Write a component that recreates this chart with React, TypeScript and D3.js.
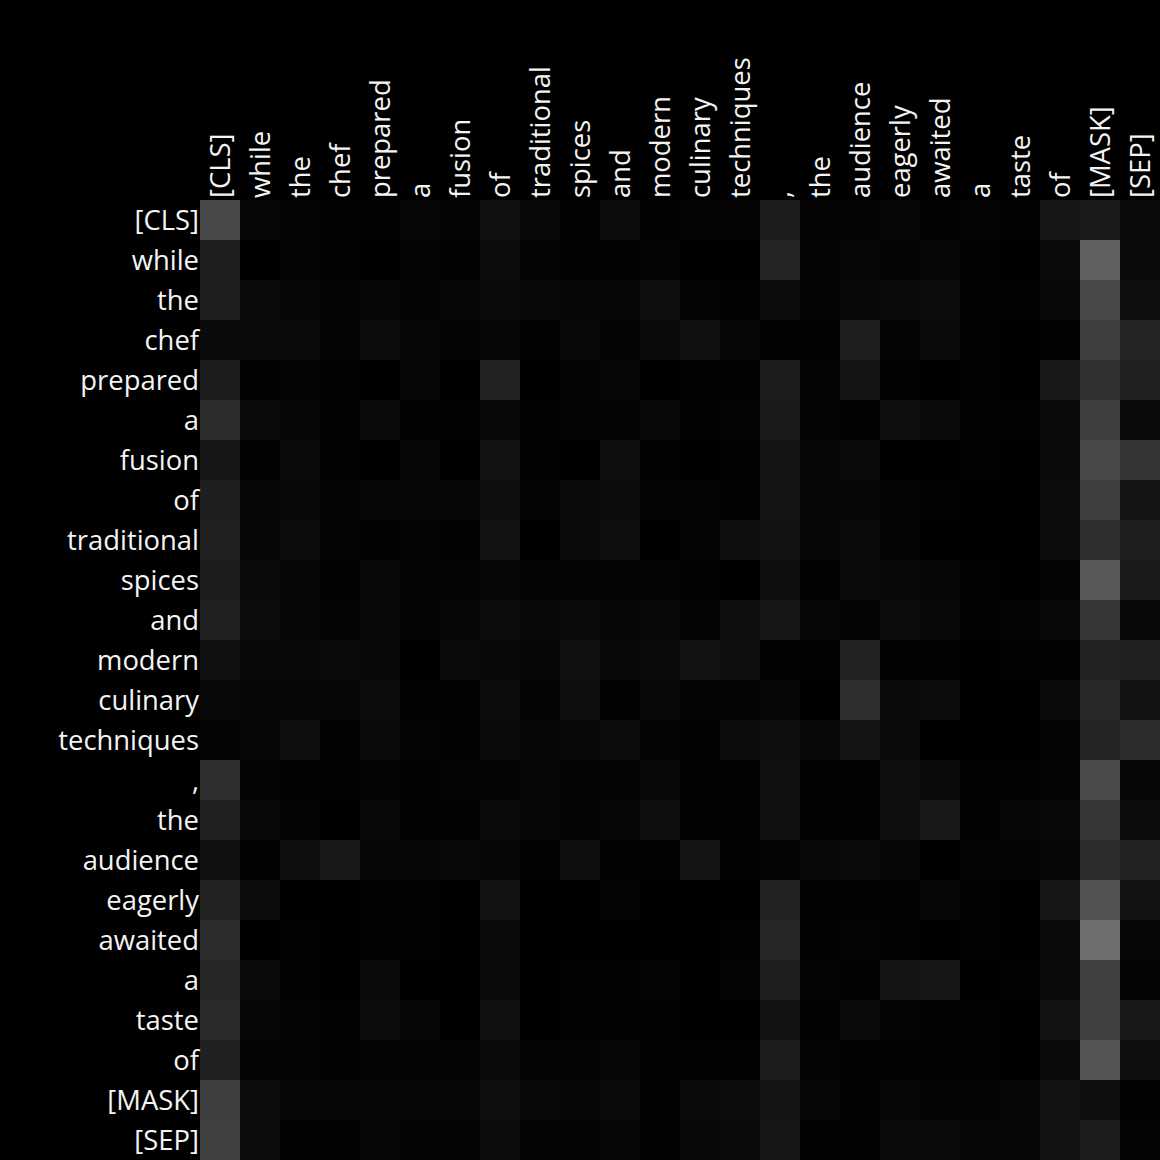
import { useEffect, useRef } from 'react';
import * as d3 from 'd3';

// tokens along both axes
const tokens = [
  '[CLS]', 'while', 'the', 'chef', 'prepared', 'a', 'fusion', 'of',
  'traditional', 'spices', 'and', 'modern', 'culinary', 'techniques', ',',
  'the', 'audience', 'eagerly', 'awaited', 'a', 'taste', 'of', '[MASK]', '[SEP]'
];

// attention intensity per row (query) — gray level 0..255
const rowCLS = [72, 6, 5, 2, 2, 7, 4, 16, 8, 2, 12, 2, 4, 4, 28, 5, 4, 6, 2, 4, 2, 22, 26, 10];
const rowWhile = [30, 0, 4, 2, 1, 4, 2, 12, 4, 2, 2, 4, 0, 0, 36, 5, 7, 5, 7, 3, 1, 10, 96, 10];
const rowThe = [30, 10, 6, 4, 7, 4, 6, 10, 8, 6, 6, 14, 4, 3, 12, 5, 8, 10, 12, 3, 3, 8, 72, 14];
const rowChef = [10, 10, 10, 4, 12, 6, 4, 6, 2, 8, 4, 10, 16, 6, 2, 2, 30, 4, 10, 3, 1, 3, 62, 36];
const rowPrepared = [28, 3, 4, 3, 0, 6, 1, 34, 1, 5, 7, 1, 3, 2, 28, 4, 20, 2, 0, 3, 1, 24, 48, 32];
const rowA1 = [44, 10, 6, 3, 10, 3, 3, 8, 3, 4, 5, 8, 2, 5, 26, 5, 3, 14, 10, 2, 3, 10, 62, 10];
const rowFusion = [22, 2, 10, 2, 1, 7, 1, 18, 2, 1, 14, 2, 1, 2, 20, 6, 10, 1, 0, 2, 0, 10, 72, 52];
const rowOf1 = [30, 6, 8, 5, 7, 6, 6, 14, 5, 10, 12, 5, 5, 3, 20, 6, 6, 4, 2, 1, 1, 12, 62, 20];
const rowTraditional = [32, 6, 12, 5, 3, 5, 3, 18, 1, 10, 14, 1, 5, 14, 18, 7, 10, 4, 0, 1, 1, 12, 46, 30];
const rowSpices = [28, 10, 6, 2, 9, 4, 4, 6, 5, 5, 5, 4, 2, 1, 14, 3, 10, 9, 6, 3, 1, 4, 88, 26];
const rowAnd = [32, 12, 6, 5, 8, 4, 6, 12, 8, 10, 6, 8, 5, 14, 22, 6, 4, 12, 8, 3, 5, 8, 54, 8];
const rowModern = [16, 8, 8, 11, 9, 1, 10, 8, 6, 16, 8, 10, 18, 14, 3, 3, 34, 2, 2, 1, 3, 2, 34, 32];
const rowCulinary = [8, 7, 6, 6, 12, 2, 2, 12, 5, 14, 3, 8, 5, 5, 6, 1, 46, 10, 12, 1, 1, 10, 40, 18];
const rowTechniques = [4, 6, 14, 2, 10, 5, 3, 10, 6, 8, 12, 4, 3, 12, 14, 9, 20, 10, 0, 1, 1, 5, 36, 44];
const rowComma = [46, 5, 3, 3, 4, 2, 4, 4, 6, 5, 5, 8, 2, 2, 16, 2, 3, 14, 10, 2, 3, 5, 74, 6];
const rowThe2 = [32, 8, 4, 1, 8, 3, 3, 10, 7, 4, 6, 14, 2, 3, 16, 3, 3, 14, 24, 2, 6, 8, 54, 12];
const rowAudience = [16, 3, 14, 24, 6, 6, 8, 7, 3, 14, 2, 2, 20, 2, 5, 8, 10, 7, 0, 4, 5, 6, 44, 34];
const rowEagerly = [34, 12, 1, 0, 2, 2, 0, 18, 0, 1, 5, 1, 0, 0, 34, 2, 3, 3, 6, 3, 1, 22, 82, 18];
const rowAwaited = [44, 0, 2, 1, 3, 3, 1, 10, 1, 1, 1, 1, 0, 2, 38, 3, 4, 3, 0, 2, 1, 10, 110, 6];
const rowA2 = [38, 10, 3, 1, 10, 1, 1, 10, 1, 2, 2, 5, 1, 5, 30, 4, 2, 20, 22, 1, 3, 10, 64, 5];
const rowTaste = [42, 6, 4, 2, 12, 6, 1, 16, 0, 2, 3, 2, 1, 1, 18, 3, 10, 4, 3, 3, 1, 18, 64, 24];
const rowOf2 = [32, 5, 5, 3, 4, 4, 4, 10, 4, 4, 7, 3, 2, 2, 28, 5, 3, 3, 2, 2, 1, 10, 84, 14];
const rowMask = [62, 12, 6, 6, 6, 7, 7, 14, 9, 7, 10, 3, 10, 12, 20, 6, 3, 6, 4, 5, 6, 18, 14, 2];
const rowSep = [64, 12, 3, 3, 6, 5, 5, 12, 4, 4, 6, 3, 8, 10, 22, 3, 3, 10, 10, 6, 6, 18, 28, 4];

const matrix = [
  rowCLS, rowWhile, rowThe, rowChef, rowPrepared, rowA1, rowFusion, rowOf1,
  rowTraditional, rowSpices, rowAnd, rowModern, rowCulinary, rowTechniques, rowComma,
  rowThe2, rowAudience, rowEagerly, rowAwaited, rowA2, rowTaste, rowOf2, rowMask, rowSep
];

const W = 1160;
const H = 1160;
const margin = { top: 200, left: 200, right: 0, bottom: 0 };

const App = () => {
  const ref = useRef<SVGSVGElement>(null);

  useEffect(() => {
    const svg = d3.select(ref.current);
    svg.selectAll('*').remove();

    const idx = tokens.map((_, i) => i);
    const x = d3.scaleBand<number>().domain(idx).range([margin.left, W - margin.right]);
    const y = d3.scaleBand<number>().domain(idx).range([margin.top, H - margin.bottom]);
    const color = d3.scaleLinear<string>().domain([0, 255]).range(['#000000', '#ffffff']);

    svg.append('rect').attr('width', W).attr('height', H).attr('fill', '#000');

    const cells = matrix.flatMap((row, r) => row.map((v, c) => ({ r, c, v })));
    svg.append('g')
      .selectAll('rect')
      .data(cells)
      .join('rect')
      .attr('x', d => x(d.c)!)
      .attr('y', d => y(d.r)!)
      .attr('width', x.bandwidth())
      .attr('height', y.bandwidth())
      .attr('fill', d => color(d.v));

    const font = "'Open Sans', 'Noto Sans', sans-serif";

    // row labels
    svg.append('g')
      .selectAll('text')
      .data(tokens)
      .join('text')
      .attr('x', margin.left - 1)
      .attr('y', (_, i) => y(i)! + y.bandwidth() / 2)
      .attr('dy', '0.35em')
      .attr('text-anchor', 'end')
      .attr('fill', '#f4f4f4')
      .style('font-family', font)
      .style('font-size', '27.4px')
      .text(d => d);

    // column labels, rotated
    svg.append('g')
      .selectAll('text')
      .data(tokens)
      .join('text')
      .attr('transform', (_, i) => `translate(${x(i)! + x.bandwidth() / 2},${margin.top - 2}) rotate(-90)`)
      .attr('dy', '0.35em')
      .attr('text-anchor', 'start')
      .attr('fill', '#f4f4f4')
      .style('font-family', font)
      .style('font-size', '27.4px')
      .text(d => d);
  }, []);

  return (
    <svg ref={ref} width={W} height={H} style={{ display: 'block', position: 'absolute', left: 0, top: 0 }} />
  );
};

export default App;
